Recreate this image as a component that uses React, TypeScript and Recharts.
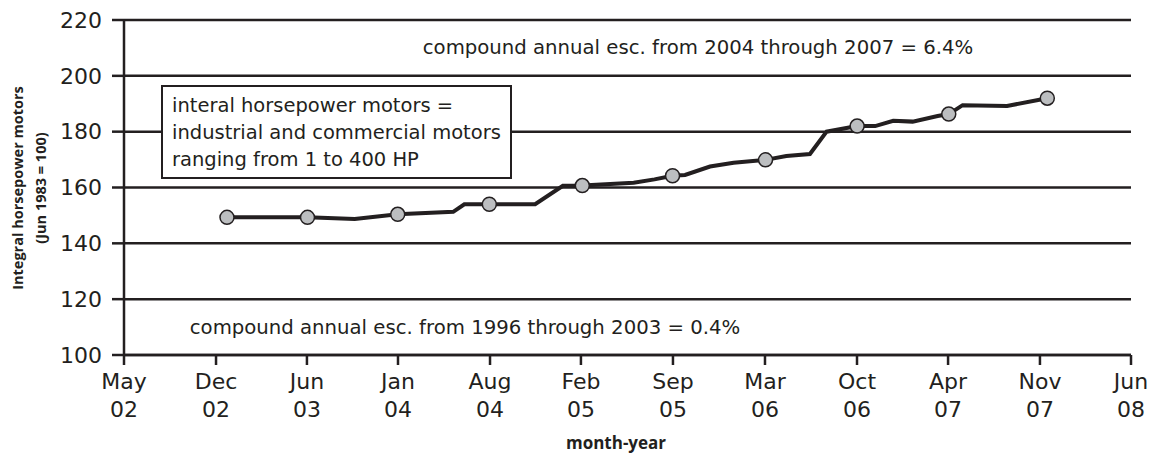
import React from 'react';
import { LineChart, Line, XAxis, YAxis, CartesianGrid, Label } from 'recharts';

// x = months since Jan 2002 (Dec 2002 = 11)
const months = [11, 16.8, 20.2, 23.3, 27.3, 28.1, 29.9, 33.2, 35.2, 36.6, 40.3, 41.8, 43.1, 44.0, 45.8, 47.5, 49.8, 51.3, 53.0, 54.2, 56.4, 57.7, 59.0, 60.4, 62.2, 63.0, 64.0, 67.2, 70.1];
const indexValues = [149.3, 149.3, 148.7, 150.4, 151.3, 154.0, 154.0, 154.0, 160.6, 160.7, 161.7, 162.9, 164.2, 164.5, 167.5, 168.9, 169.9, 171.3, 172.0, 180.0, 182.0, 182.0, 183.9, 183.6, 185.6, 186.3, 189.5, 189.2, 192.0];
const markerFlags = [1, 1, 0, 1, 0, 0, 1, 0, 0, 1, 0, 0, 1, 0, 0, 0, 1, 0, 0, 0, 1, 0, 0, 0, 0, 1, 0, 0, 1];

const xTickPositions = [3.58, 10.21, 16.76, 23.32, 29.95, 36.5, 43.13, 49.76, 56.39, 62.95, 69.57, 76.13];
const xTickMonths = ['May', 'Dec', 'Jun', 'Jan', 'Aug', 'Feb', 'Sep', 'Mar', 'Oct', 'Apr', 'Nov', 'Jun'];
const xTickYears = ['02', '02', '03', '04', '04', '05', '05', '06', '06', '07', '07', '08'];
const yTicks = [100, 120, 140, 160, 180, 200, 220];

const boxLines = ['interal horsepower motors =', 'industrial and commercial motors', 'ranging from 1 to 400 HP'];
const noteTop = 'compound annual esc. from 2004 through 2007 = 6.4%';
const noteBottom = 'compound annual esc. from 1996 through 2003 = 0.4%';
const yTitle = ['Integral horsepower motors', '(Jun 1983 = 100)'];
const xTitle = 'month-year';

const data = months.map((m, i) => ({ m, v: indexValues[i], marker: markerFlags[i] }));

const BLACK = '#231f20';
const FONT = '"DejaVu Sans", sans-serif';
const TITLE_FONT = '"Open Sans", sans-serif';

const XTick = (props: any) => {
  const { x, y, payload } = props;
  const i = xTickPositions.indexOf(payload.value);
  return (
    <text x={x} y={y + 22} textAnchor="middle" fontSize={22} fill={BLACK}>
      <tspan x={x}>{xTickMonths[i]}</tspan>
      <tspan x={x} dy={28}>{xTickYears[i]}</tspan>
    </text>
  );
};

const Dot = (props: any) => {
  const { cx, cy, payload, index } = props;
  if (!payload || !payload.marker) return <g key={`d${index}`} />;
  return <circle key={`d${index}`} cx={cx} cy={cy} r={7} fill="#bcbec0" stroke={BLACK} strokeWidth={1.5} />;
};

export default function App() {
  return (
    <div style={{ position: 'absolute', left: 0, top: 0, width: 1160, height: 455, fontFamily: FONT, background: '#fff' }}>
      <LineChart width={1160} height={455} data={data} margin={{ top: 20, right: 29, bottom: 0, left: 0 }}>
        <CartesianGrid horizontal vertical={false} stroke={BLACK} strokeWidth={2.5} />
        <XAxis
          dataKey="m"
          type="number"
          domain={[xTickPositions[0], xTickPositions[xTickPositions.length - 1]]}
          ticks={xTickPositions}
          interval={0}
          height={100}
          tickSize={10}
          tick={<XTick />}
          axisLine={{ stroke: BLACK, strokeWidth: 2.5 }}
          tickLine={{ stroke: BLACK, strokeWidth: 2.5 }}
        >
          <Label
            content={() => (
              <text x={616} y={449} textAnchor="middle" fontSize={17} fontWeight="bold" fontFamily={TITLE_FONT} fill={BLACK}>{xTitle}</text>
            )}
          />
        </XAxis>
        <YAxis
          type="number"
          domain={[100, 220]}
          ticks={yTicks}
          interval={0}
          width={124}
          tickSize={12}
          tickMargin={10}
          tick={{ fontSize: 22, fill: BLACK }}
          axisLine={{ stroke: BLACK, strokeWidth: 2.5 }}
          tickLine={{ stroke: BLACK, strokeWidth: 2.5 }}
        >
          <Label
            content={() => (
              <g fontFamily={TITLE_FONT}>
                <text transform="translate(23,188) rotate(-90)" textAnchor="middle" fontSize={14.5} fontWeight="bold" fill={BLACK}>{yTitle[0]}</text>
                <text transform="translate(46,188) rotate(-90)" textAnchor="middle" fontSize={14.5} fontWeight="bold" fill={BLACK}>{yTitle[1]}</text>
              </g>
            )}
          />
        </YAxis>
        <Line
          type="linear"
          dataKey="v"
          stroke={BLACK}
          strokeWidth={4}
          dot={Dot}
          activeDot={false}
          isAnimationActive={false}
        />
      </LineChart>
      <div style={{ position: 'absolute', left: 698, top: 36, transform: 'translateX(-50%)', fontSize: 19.7, lineHeight: '24px', color: BLACK, whiteSpace: 'nowrap' }}>{noteTop}</div>
      <div style={{ position: 'absolute', left: 465, top: 316, transform: 'translateX(-50%)', fontSize: 19.7, lineHeight: '24px', color: BLACK, whiteSpace: 'nowrap' }}>{noteBottom}</div>
      <div style={{ position: 'absolute', left: 161, top: 85, width: 351, height: 94, boxSizing: 'border-box', border: `2px solid ${BLACK}`, background: '#fff', padding: '5px 0 0 9px', fontSize: 19.5, lineHeight: '27px', color: BLACK, whiteSpace: 'nowrap' }}>
        {boxLines.map((t, i) => <div key={i}>{t}</div>)}
      </div>
    </div>
  );
}
